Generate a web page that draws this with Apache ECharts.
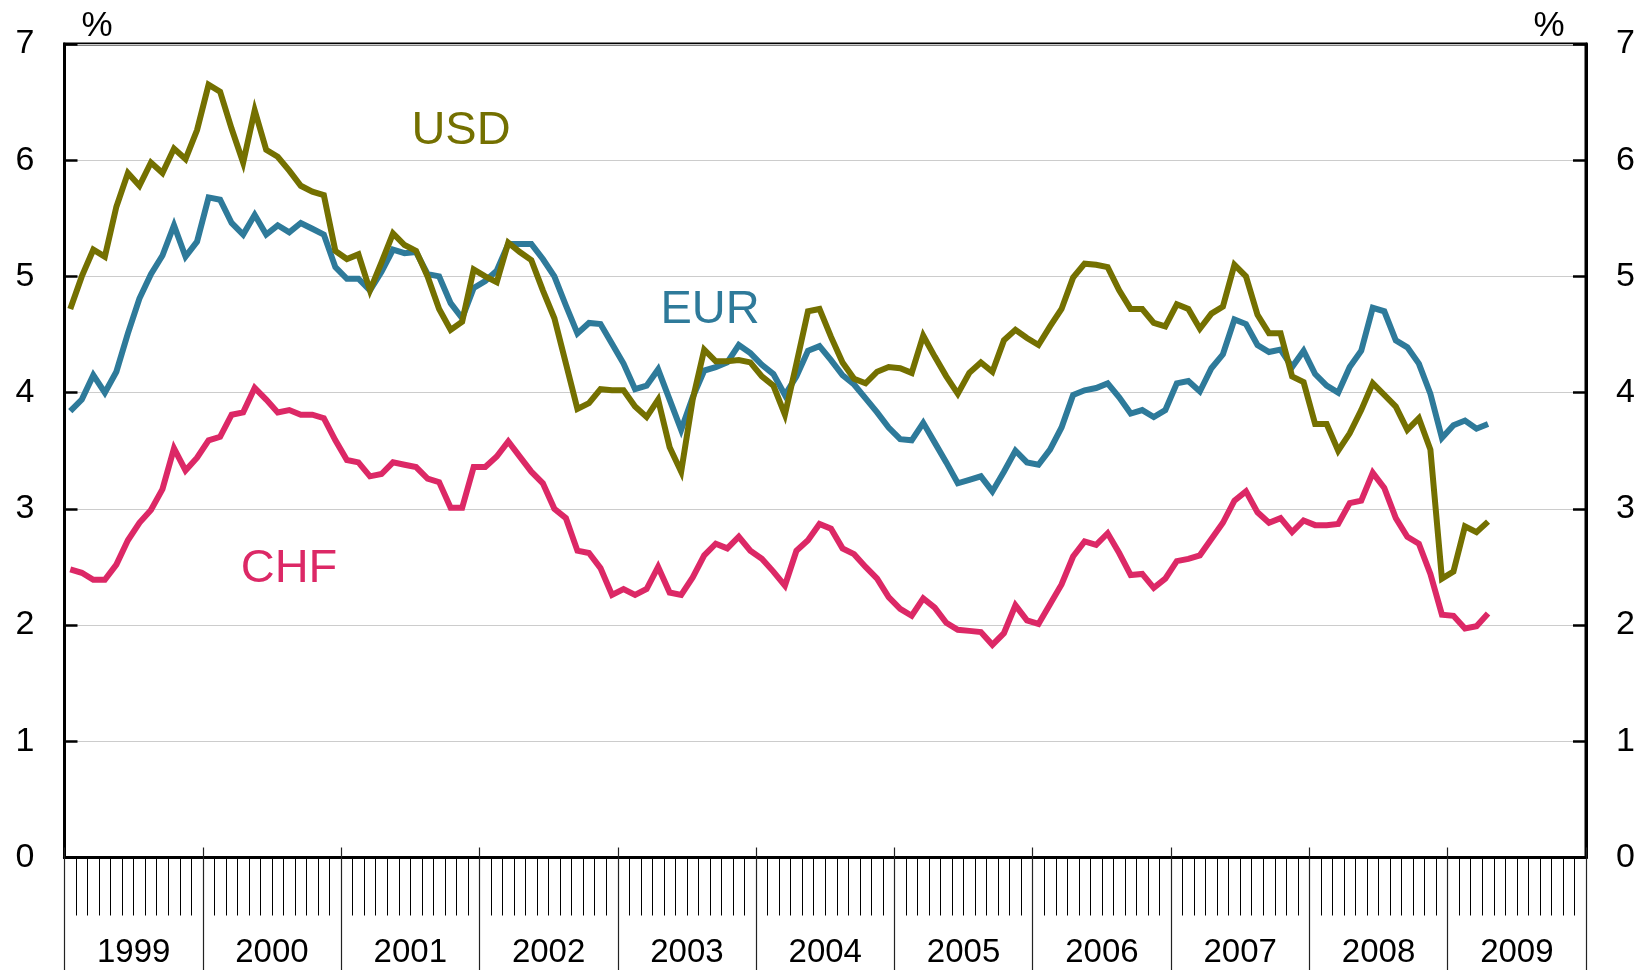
<!DOCTYPE html>
<html>
<head>
<meta charset="utf-8">
<script src="https://cdn.jsdelivr.net/npm/echarts@6/dist/echarts.min.js"></script>
<style>
  html, body { margin: 0; padding: 0; background: #fff; }
  #chart { width: 1646px; height: 970px; }
</style>
</head>
<body>
<div id="chart"></div>
<script>
// monthly data, Jan 1999 - Apr 2009
const years = ['1999', '2000', '2001', '2002', '2003', '2004', '2005', '2006', '2007', '2008', '2009']
const monthNames = ['01', '02', '03', '04', '05', '06', '07', '08', '09', '10', '11', '12']
const months = years.flatMap(y => monthNames.map(m => y + '-' + m))

const usd = [
  4.72, 5.00, 5.23, 5.17, 5.60, 5.89, 5.78, 5.98, 5.89, 6.10, 6.01, 6.26,
  6.65, 6.59, 6.27, 5.98, 6.43, 6.09, 6.03, 5.91, 5.78, 5.73, 5.70, 5.22,
  5.15, 5.19, 4.88, 5.12, 5.37, 5.27, 5.22, 5.00, 4.72, 4.54, 4.61, 5.06,
  5.00, 4.95, 5.29, 5.21, 5.14, 4.88, 4.64, 4.25, 3.86, 3.91, 4.03, 4.02,
  4.02, 3.88, 3.79, 3.94, 3.53, 3.32, 3.94, 4.37, 4.27, 4.27, 4.28, 4.26,
  4.14, 4.06, 3.81, 4.25, 4.70, 4.72, 4.48, 4.26, 4.12, 4.08, 4.18, 4.22,
  4.21, 4.17, 4.49, 4.31, 4.14, 3.99, 4.17, 4.26, 4.18, 4.45, 4.54, 4.47,
  4.41, 4.57, 4.72, 4.99, 5.11, 5.10, 5.08, 4.88, 4.72, 4.72, 4.60, 4.57,
  4.76, 4.72, 4.55, 4.68, 4.74, 5.10, 5.00, 4.67, 4.51, 4.51, 4.14, 4.09,
  3.73, 3.73, 3.50, 3.65, 3.85, 4.08, 3.98, 3.88, 3.68, 3.78, 3.51, 2.40,
  2.46, 2.85, 2.80, 2.89
]
const eur = [
  3.84, 3.94, 4.15, 4.00, 4.18, 4.51, 4.81, 5.02, 5.18, 5.44, 5.17, 5.30,
  5.68, 5.66, 5.46, 5.36, 5.53, 5.36, 5.44, 5.38, 5.46, 5.41, 5.36, 5.08,
  4.98, 4.98, 4.88, 5.04, 5.23, 5.20, 5.21, 5.02, 5.00, 4.77, 4.64, 4.90,
  4.96, 5.05, 5.28, 5.28, 5.28, 5.15, 5.00, 4.75, 4.51, 4.60, 4.59, 4.42,
  4.25, 4.03, 4.06, 4.20, 3.94, 3.68, 3.96, 4.19, 4.22, 4.26, 4.41, 4.34,
  4.24, 4.16, 3.98, 4.14, 4.36, 4.40, 4.28, 4.15, 4.07, 3.95, 3.83, 3.70,
  3.60, 3.59, 3.74, 3.57, 3.40, 3.22, 3.25, 3.28, 3.15, 3.32, 3.50, 3.40,
  3.38, 3.51, 3.70, 3.98, 4.02, 4.04, 4.08, 3.96, 3.82, 3.85, 3.79, 3.85,
  4.08, 4.10, 4.01, 4.21, 4.33, 4.63, 4.59, 4.41, 4.35, 4.37, 4.22, 4.36,
  4.16, 4.06, 4.00, 4.22, 4.36, 4.73, 4.70, 4.45, 4.39, 4.25, 3.99, 3.61,
  3.72, 3.76, 3.69, 3.73
]
const chf = [
  2.48, 2.45, 2.39, 2.39, 2.52, 2.73, 2.88, 2.99, 3.17, 3.52, 3.33, 3.44,
  3.59, 3.62, 3.81, 3.83, 4.04, 3.94, 3.83, 3.85, 3.81, 3.81, 3.78, 3.59,
  3.42, 3.40, 3.28, 3.30, 3.40, 3.38, 3.36, 3.26, 3.23, 3.01, 3.01, 3.36,
  3.36, 3.45, 3.58, 3.45, 3.32, 3.22, 3.00, 2.92, 2.64, 2.62, 2.49, 2.26,
  2.31, 2.26, 2.31, 2.50, 2.28, 2.26, 2.41, 2.60, 2.70, 2.66, 2.76, 2.64,
  2.57, 2.46, 2.34, 2.64, 2.73, 2.87, 2.83, 2.66, 2.61, 2.50, 2.40, 2.24,
  2.14, 2.08, 2.23, 2.15, 2.02, 1.96, 1.95, 1.94, 1.83, 1.93, 2.17, 2.04,
  2.01, 2.18, 2.35, 2.59, 2.72, 2.69, 2.79, 2.62, 2.43, 2.44, 2.32, 2.40,
  2.55, 2.57, 2.60, 2.74, 2.88, 3.07, 3.15, 2.97, 2.88, 2.92, 2.80, 2.90,
  2.86, 2.86, 2.87, 3.05, 3.07, 3.31, 3.18, 2.92, 2.76, 2.70, 2.44, 2.09,
  2.08, 1.97, 1.99, 2.10
]

const FONT = '"Liberation Sans", Arial, sans-serif'
const C_USD = '#747000'
const C_EUR = '#2e7a9a'
const C_CHF = '#dc2866'

const chart = echarts.init(document.getElementById('chart'), null, { renderer: 'canvas' })

const yAxisBase = {
  type: 'value', min: 0, max: 7, interval: 1,
  axisLine: { show: true, lineStyle: { color: '#000', width: 3 } },
  axisTick: { show: true, inside: true, length: 13, lineStyle: { color: '#000', width: 2.5 } },
  axisLabel: { color: '#000', fontSize: 34, fontFamily: FONT, margin: 30 },
  splitLine: { show: true, lineStyle: { color: '#cccccc', width: 1.2 } }
}

const lineSeries = (name, data, color) => ({
  name, type: 'line', data, xAxisIndex: 0, yAxisIndex: 0,
  symbol: 'none', smooth: false,
  lineStyle: { color, width: 6, join: 'miter', cap: 'butt' }
})

chart.setOption({
  animation: false,
  backgroundColor: '#fff',
  grid: { left: 64.5, right: 60, top: 44, bottom: 112.5, show: true, borderColor: '#000', borderWidth: 3, containLabel: false },
  xAxis: [
    {
      type: 'category', data: months, boundaryGap: true, position: 'bottom',
      axisLine: { show: true, lineStyle: { color: '#000', width: 3 } },
      axisTick: { show: true, interval: 0, length: 58, lineStyle: { color: '#000', width: 1 } },
      axisLabel: { show: false },
      splitLine: { show: false }
    },
    {
      type: 'category', data: years, boundaryGap: true, position: 'bottom',
      axisLine: { show: false },
      axisTick: { show: true, interval: 0, length: 114, lineStyle: { color: '#222', width: 1.2 } },
      axisLabel: { show: true, interval: 0, color: '#000', fontSize: 33, fontFamily: FONT, margin: 95, verticalAlign: 'middle' },
      splitLine: { show: false }
    },
    {
      type: 'category', data: years, boundaryGap: true, position: 'bottom',
      axisLine: { show: false },
      axisTick: { show: true, inside: true, interval: 0, length: 10, lineStyle: { color: '#222', width: 1.2 } },
      axisLabel: { show: false },
      splitLine: { show: false }
    }
  ],
  yAxis: [
    Object.assign({}, yAxisBase, { position: 'left' }),
    Object.assign({}, yAxisBase, { position: 'right', splitLine: { show: false } })
  ],
  series: [
    lineSeries('CHF', chf, C_CHF),
    lineSeries('EUR', eur, C_EUR),
    lineSeries('USD', usd, C_USD)
  ],
  graphic: [
    { type: 'text', x: 97, y: 26, style: { text: '%', fill: '#000', fontSize: 35, fontFamily: FONT, align: 'center', verticalAlign: 'middle' } },
    { type: 'text', x: 1549, y: 26, style: { text: '%', fill: '#000', fontSize: 35, fontFamily: FONT, align: 'center', verticalAlign: 'middle' } },
    { type: 'text', x: 461, y: 131, style: { text: 'USD', fill: C_USD, fontSize: 47, fontFamily: FONT, align: 'center', verticalAlign: 'middle' } },
    { type: 'text', x: 710, y: 310, style: { text: 'EUR', fill: C_EUR, fontSize: 47, fontFamily: FONT, align: 'center', verticalAlign: 'middle' } },
    { type: 'text', x: 289, y: 569, style: { text: 'CHF', fill: C_CHF, fontSize: 47, fontFamily: FONT, align: 'center', verticalAlign: 'middle' } }
  ]
})
</script>
</body>
</html>
